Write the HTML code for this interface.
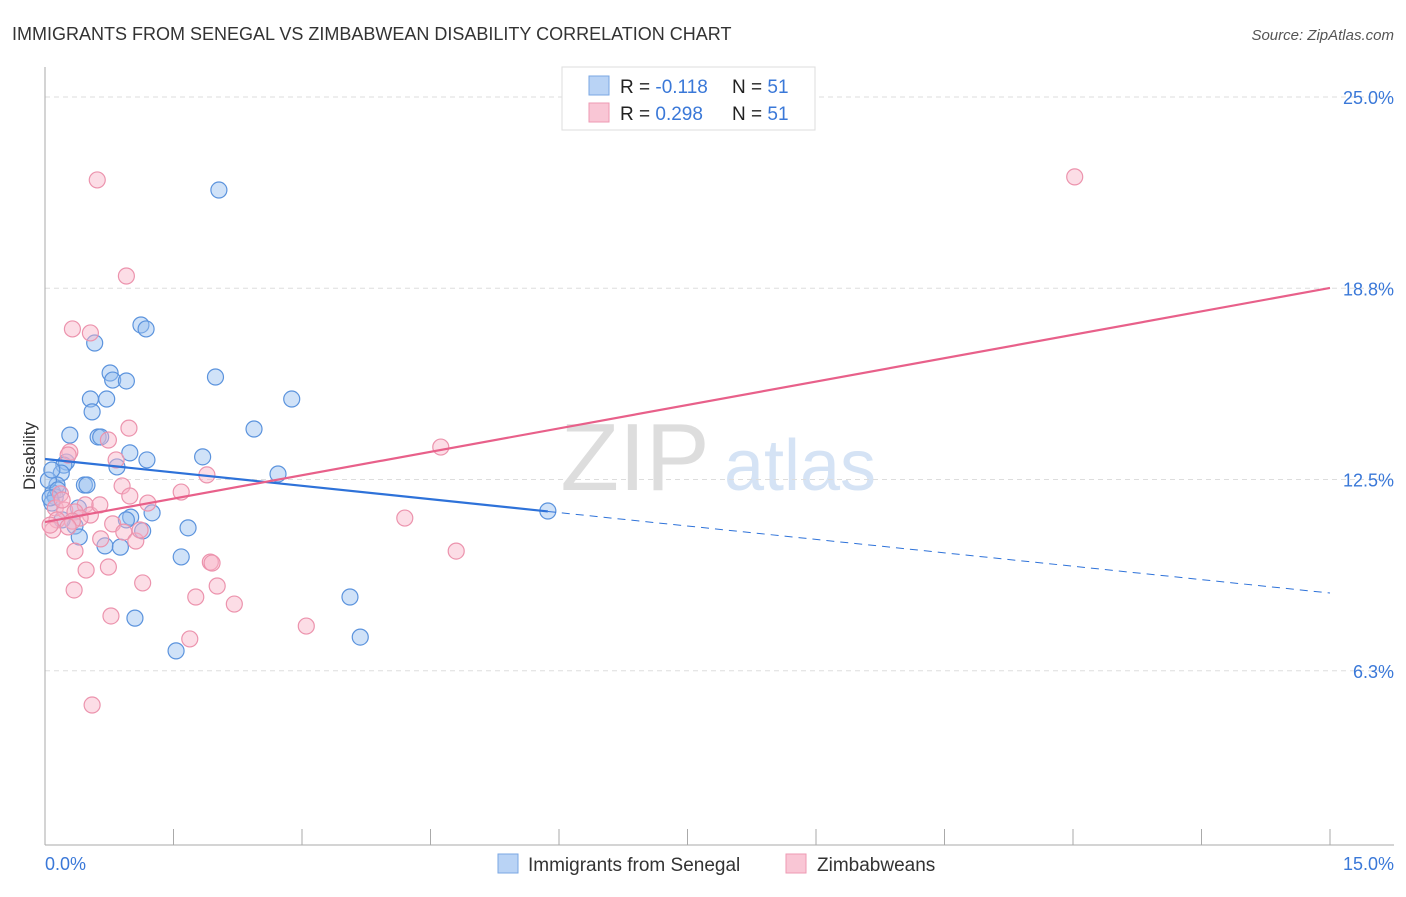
<!DOCTYPE html>
<html><head><meta charset="utf-8"><style>
body{margin:0;background:#fff;font-family:"Liberation Sans",sans-serif;}
svg text{font-family:"Liberation Sans",sans-serif;}
</style></head><body>
<svg id="chart" width="1406" height="892" xmlns="http://www.w3.org/2000/svg">
<text x="12" y="40" font-size="18" fill="#333">IMMIGRANTS FROM SENEGAL VS ZIMBABWEAN DISABILITY CORRELATION CHART</text>
<text x="1394" y="40" font-size="15" fill="#555" text-anchor="end" font-style="italic">Source: ZipAtlas.com</text>
<text x="635" y="490" font-size="96" fill="#ddd" font-family="Liberation Serif" text-anchor="middle">ZIP</text>
<text x="800" y="490" font-size="72" fill="#d5e3f5" text-anchor="middle">atlas</text>
<g id="grid"></g>
<g id="axes"></g>
<g id="pts"></g>
<g id="lines"></g>
<text x="35" y="456" font-size="17" fill="#333" text-anchor="middle" transform="rotate(-90 35 456)">Disability</text>
<text x="45" y="870" font-size="18" fill="#3a78d8">0.0%</text>
<text x="1394" y="870" font-size="18" fill="#3a78d8" text-anchor="end">15.0%</text>
<g>
<rect x="562" y="67" width="253" height="63" fill="#fff" stroke="#ddd"/>
<rect x="589" y="76" width="20" height="19" fill="#b9d3f5" stroke="#7aa7e3"/>
<rect x="589" y="103" width="20" height="19" fill="#f9c6d5" stroke="#ee9ab3"/>
<text x="620" y="93" font-size="19" fill="#222">R = <tspan fill="#3a78d8">-0.118</tspan></text>
<text x="732" y="93" font-size="19" fill="#222">N = <tspan fill="#3a78d8">51</tspan></text>
<text x="620" y="120" font-size="19" fill="#222">R = <tspan fill="#3a78d8">0.298</tspan></text>
<text x="732" y="120" font-size="19" fill="#222">N = <tspan fill="#3a78d8">51</tspan></text>
</g>
<g>
<rect x="498" y="854" width="20" height="19" fill="#b9d3f5" stroke="#7aa7e3"/>
<text x="528" y="871" font-size="19" fill="#333">Immigrants from Senegal</text>
<rect x="786" y="854" width="20" height="19" fill="#f9c6d5" stroke="#ee9ab3"/>
<text x="817" y="871" font-size="19" fill="#333">Zimbabweans</text>
</g>
</svg>
<script>
const yTicks=[25,18.75,12.5,6.25];
const yTickLabels=["25.0%","18.8%","12.5%","6.3%"];
const xTicks=[0,1.5,3,4.5,6,7.5,9,10.5,12,13.5,15];
const senegalX=[2.03,1.12,1.18,0.58,0.76,0.79,0.95,1.99,0.53,0.72,2.88,0.55,0.29,0.62,0.65,2.44,0.99,1.84,1.19,0.84,0.25,0.22,0.19,2.72,0.14,0.46,0.49,0.09,0.12,0.08,1.25,1.0,0.95,0.35,1.67,1.14,0.40,0.70,0.88,1.59,3.56,1.05,3.68,1.53,5.87,0.04,0.08,0.15,0.06,0.39,0.20];
const senegalY=[21.96,17.55,17.42,16.96,15.98,15.75,15.72,15.85,15.13,15.13,15.13,14.71,13.95,13.89,13.89,14.15,13.37,13.24,13.14,12.91,13.07,12.97,12.71,12.68,12.32,12.32,12.32,12.06,11.93,11.73,11.41,11.27,11.18,10.98,10.92,10.82,10.62,10.33,10.29,9.97,8.66,7.97,7.35,6.90,11.47,12.48,12.81,12.16,11.90,11.57,11.18];
const zimX=[0.61,12.02,0.95,0.32,0.53,0.98,0.74,0.29,0.27,4.62,0.83,1.89,0.90,1.59,0.18,0.99,1.20,0.47,0.12,0.23,0.35,0.53,0.41,0.14,4.20,0.32,0.79,0.09,0.92,1.06,0.65,0.35,4.80,0.74,0.48,1.93,1.95,1.14,2.01,0.34,1.76,2.21,0.77,3.05,1.69,0.55,0.06,0.20,0.64,0.27,1.11];
const zimY=[22.29,22.39,19.15,17.42,17.29,14.18,13.79,13.40,13.30,13.56,13.14,12.65,12.29,12.09,12.03,11.96,11.73,11.67,11.57,11.50,11.44,11.34,11.24,11.18,11.24,11.14,11.05,10.85,10.78,10.49,10.56,10.16,10.16,9.64,9.54,9.80,9.77,9.12,9.02,8.89,8.66,8.43,8.04,7.71,7.29,5.13,11.01,11.83,11.67,10.95,10.85];
const blueLine=[13.17,8.79], blueSolidEnd=5.87;
const pinkLine=[11.11,18.76];
const X=v=>45+v/15*1285, Y=v=>97+(25-v)*30.6;
const NS="http://www.w3.org/2000/svg";
function mk(p,t,a){const e=document.createElementNS(NS,t);for(const k in a)e.setAttribute(k,a[k]);document.getElementById(p).appendChild(e);return e;}
yTicks.forEach((t,i)=>{
 const l=mk('grid','line',{x1:45,x2:1394,y1:Y(t),y2:Y(t),stroke:'#ddd','stroke-dasharray':'5,4'});
 
 
 const tx=mk('grid','text',{x:1394,y:Y(t)+7,'font-size':18,fill:'#3a78d8','text-anchor':'end'});
 tx.textContent=yTickLabels[i];
 
 
});
let a=mk('axes','line',{x1:45,x2:45,y1:67,y2:845,stroke:'#aaa'});


a=mk('axes','line',{x1:45,x2:1394,y1:845,y2:845,stroke:'#aaa'});


xTicks.forEach(t=>{
 const l=mk('axes','line',{x1:X(t),x2:X(t),y1:829,y2:845,stroke:'#aaa'});
 
 
});
senegalX.forEach((v,i)=>{
 const c=mk('pts','circle',{cx:X(v),cy:Y(senegalY[i]),r:8,fill:'rgba(150,190,240,0.45)',stroke:'#5b93dd','stroke-width':1.2});
 
 
});
zimX.forEach((v,i)=>{
 const c=mk('pts','circle',{cx:X(v),cy:Y(zimY[i]),r:8,fill:'rgba(248,180,200,0.45)',stroke:'#ec93ad','stroke-width':1.2});
 
 
});
const bAt=x=>blueLine[0]+(blueLine[1]-blueLine[0])*x/15;
let l=mk('lines','line',{x1:X(0),y1:Y(bAt(0)),x2:X(blueSolidEnd),y2:Y(bAt(blueSolidEnd)),stroke:'#2e72d9','stroke-width':2.2});


l=mk('lines','line',{x1:X(blueSolidEnd),y1:Y(bAt(blueSolidEnd)),x2:X(15),y2:Y(bAt(15)),stroke:'#2e72d9','stroke-width':1,'stroke-dasharray':'8,6'});


l=mk('lines','line',{x1:X(0),y1:Y(pinkLine[0]),x2:X(15),y2:Y(pinkLine[1]),stroke:'#e8608a','stroke-width':2.2});


</script>
</body></html>
